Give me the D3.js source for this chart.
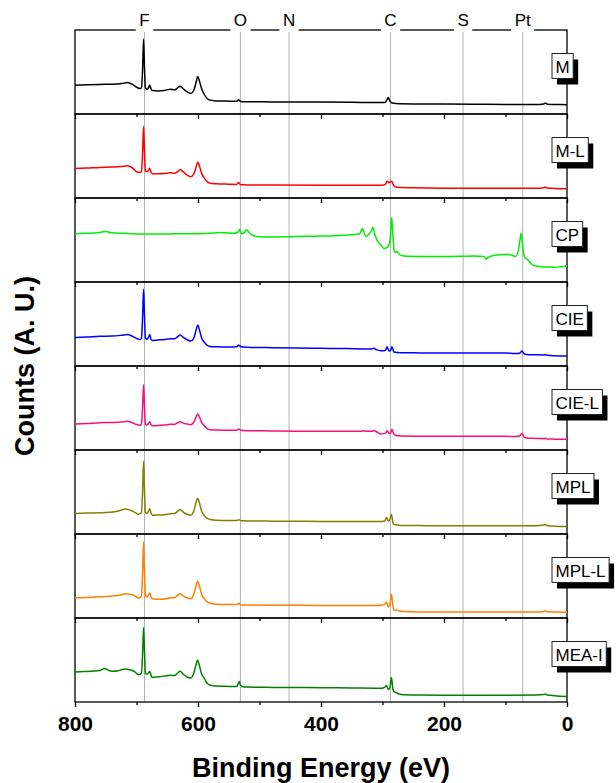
<!DOCTYPE html>
<html>
<head>
<meta charset="utf-8">
<script src="https://cdn.jsdelivr.net/npm/d3@7"></script>
<style>
  body { margin: 0; background: #fff; }
  svg { display: block; font-family: "Liberation Sans", Arial, sans-serif; }
</style>
</head>
<body>
<div id="chart"></div>
<script>
// ------ Data (binding energy in eV, counts in arbitrary units 0-100 per panel) ------- //

const sampleNames = ["M", "M-L", "CP", "CIE", "CIE-L", "MPL", "MPL-L", "MEA-I"];
const sampleColors = ["#000000", "#ff0000", "#00ee00", "#0000ff", "#f5107c", "#808000", "#ff8000", "#008000"];

const elementNames = ["F", "O", "N", "C", "S", "Pt"];
const elementEnergies = [687, 531, 452, 287, 169, 72];

const majorTicks = [800, 600, 400, 200, 0];
const minorTicks = [700, 500, 300, 100];

const dataM = [[800,34.3],[780,34.8],[760,35.2],[740,35.4],[724,36.2],[715,37.4],[707,35.4],[699,31.5],[694,30.3],[692,31],[690,55],[688.5,89],[687,55],[685.5,31],[683,29.5],[680,32],[678.5,34.5],[676.5,30],[674,28],[665,27.5],[655,28],[645,29.5],[638,29],[633,31],[629,33],[624,30],[617,26],[612,24.5],[607,28],[603,38],[600.5,44.5],[598,40],[594,30],[590,23.5],[585,18.5],[580,16.5],[570,15.6],[550,15.3],[537,15.2],[534,17],[531,15],[520,14.6],[480,14.4],[440,14.2],[400,14.2],[350,14],[310,13.6],[296,13.8],[293,16.5],[291,19.7],[288,15.5],[284,13],[278,12.5],[250,12],[200,11.8],[150,11.6],[100,11.4],[50,11.3],[38,12],[35,13],[32,11.6],[20,11.3],[10,11.2],[0,11]];

const dataML = [[800,35],[780,35.6],[760,36.4],[740,36.8],[724,37.5],[715,38.3],[707,36],[699,31],[694,30.5],[692,31.5],[690,55],[688.5,85.5],[687,55],[685.5,32],[683,31.5],[680,33.5],[678.5,35.5],[676.5,31],[674,29],[665,29],[655,29.2],[645,30],[638,29.5],[633,31.5],[629,33.5],[624,31],[617,27],[612,25.4],[607,28.5],[603,37],[600.5,43],[598,39],[594,29],[590,24],[585,19.5],[580,17.5],[570,17],[550,16.5],[537,16.2],[534,18.5],[531,16],[520,15.6],[480,15.4],[400,15.3],[350,15.3],[300,15.3],[295,16.5],[292.7,20],[289,18.5],[285,20],[282,15],[278,12.8],[250,12.2],[200,11.7],[150,11.6],[100,11.6],[50,11.5],[38,12.2],[35,13],[32,11.8],[20,11.4],[0,11]];

const dataCP = [[800,57.5],[780,58],[760,59],[750,60],[740,58.5],[720,57.8],[700,57.2],[680,57],[650,57.2],[620,57.5],[600,57.5],[580,58],[565,59],[555,58.5],[540,58],[534,60],[532.3,62.6],[529,57.5],[525,58.5],[521,62.2],[517,59],[510,55],[500,54],[480,53.5],[450,54],[420,54.5],[400,54.7],[370,55.5],[345,56.5],[337,57.5],[332.5,63.8],[329,57],[326.5,54.3],[322,57],[318,61],[315.5,65.4],[313,58],[309,50],[303,44],[298,40.2],[294,40.5],[290,43.3],[287,55],[285,76.8],[283,55],[281,37],[278.5,35],[277,36.5],[275.5,35.4],[271,32],[265,31],[240,30.5],[200,30.3],[170,30.6],[150,31],[135,30.5],[131,27],[129,29],[120,31.5],[110,32.3],[100,33],[90,32],[84,30.3],[79,38],[76,52],[74.5,57.9],[73,50],[71,36],[69,30],[63,26],[57,21],[51,19],[45,18.5],[30,17.8],[19,17.7],[10,18.2],[5,18.5],[0,19.3]];

const dataCIE = [[800,34],[780,34.6],[760,35.4],[740,35.6],[724,36.6],[715,37.4],[707,35.5],[699,32.5],[694,31.5],[692,33],[690,60],[688.5,91.5],[687,60],[685.5,33],[683,31.7],[680,35],[678.5,37.4],[676.5,32],[674,30.5],[665,31],[655,31.5],[645,32.5],[638,32.5],[633,35],[629,37],[624,34],[617,31],[612,29.7],[607,33],[603,43],[600.5,48.8],[598,44],[594,33],[590,28.5],[585,24.5],[580,23.2],[570,22.8],[550,22.6],[537,22.8],[534,24.8],[530,23],[520,22.4],[480,21.8],[440,21.3],[400,21],[360,20.7],[320,20.3],[316,20.8],[314,21],[310,19.5],[303,18.2],[298,18.2],[295,19],[292.7,22.8],[289,17.9],[286.5,19],[284.6,22.8],[282,17.5],[280,16.3],[270,15.8],[240,15.6],[200,15.4],[150,15.4],[100,15.4],[85,15],[77,15.2],[73.2,17.9],[70,14.8],[66,13.8],[50,13.4],[38,13.2],[35,13.5],[32,12.8],[20,12.2],[0,11.8]];

const dataCIEL = [[800,31],[780,31.6],[760,32.4],[740,32.8],[724,33.4],[715,34.1],[707,32.4],[699,30.2],[694,29.6],[692,31],[690,52],[688.5,77.8],[687,52],[685.5,30.5],[683,29.8],[680,32],[678.5,33.7],[676.5,30.2],[674,29],[665,29.2],[655,29.8],[645,30.6],[638,30.5],[633,32.5],[629,33.7],[624,32],[617,30.8],[612,30.2],[607,33],[603,39.5],[600.5,42.9],[598,40],[594,32.5],[590,29],[585,25.5],[580,24.2],[570,23.8],[550,23.6],[537,23.6],[534,25],[530,23.6],[520,23],[480,22.7],[440,22.4],[400,22.2],[360,22.2],[335,22.4],[331,23],[326,22.2],[318,22.2],[314,23],[308,21],[303,19],[297,19.5],[294,21],[292.7,23],[289,19.5],[286.5,21],[284.6,24.6],[282,19.5],[278,17.2],[270,16.6],[240,16.4],[200,16.3],[150,16.3],[100,16.3],[85,16],[77,16.6],[73.2,19.8],[70,15.5],[66,14.3],[50,13.8],[38,13.5],[35,14],[32,13.2],[20,12.9],[0,12.7]];

const dataMPL = [[800,24.4],[780,24.9],[760,25.3],[745,25.8],[735,26.5],[724,28.5],[718,29.7],[711,28.5],[704,26.4],[697,23.6],[692,25.5],[690,52],[688.5,86.6],[687,52],[685.5,26],[683,24.4],[680,28],[678.5,30],[676.5,25],[674,22.4],[665,22.6],[655,23],[645,24.2],[638,24.4],[633,27],[629,29.3],[624,26],[617,23.2],[612,22.4],[607,27],[603,38],[600.5,42.7],[598,38],[594,27],[590,22.4],[585,18.5],[580,17.2],[570,16.3],[550,16.1],[537,16.1],[534,17],[530,15.8],[520,15.6],[480,15.3],[440,15.2],[400,15],[350,15],[310,15],[300,15],[296,15.8],[293.5,19.5],[290.5,15.5],[288,17],[285.5,23.2],[283,13.5],[281,11.4],[275,10.6],[270,10.2],[240,10],[200,9.8],[150,9.8],[100,9.8],[50,9.9],[38,10.6],[35,11.4],[32,9.8],[20,9.3],[0,8.9]];

const dataMPLL = [[800,23.8],[780,24.5],[760,25.2],[745,25.8],[735,26.5],[724,27.8],[718,29],[711,28.2],[704,27],[697,23.8],[692,26],[690,55],[688.5,90.5],[687,55],[685.5,26.5],[683,25],[680,28],[678.5,29.8],[676.5,25.2],[674,23],[665,22.2],[655,22.6],[645,24],[638,24.2],[633,27],[629,29],[624,26],[617,23.8],[612,23],[607,28],[603,39],[600.5,43.7],[598,39],[594,28],[590,23],[585,19.3],[580,17.5],[570,16.3],[550,16],[537,16],[534,17.5],[530,15.6],[520,15.4],[480,15.2],[440,15.1],[400,15],[350,15],[310,15],[300,15.5],[296,16.5],[293.5,19],[290.5,13],[288,16],[285.5,28.2],[283,14],[281,9.1],[277,9.4],[273,8.3],[265,7.6],[240,7.2],[200,7.1],[150,7.1],[100,7.1],[50,7.1],[38,7.8],[35,8.7],[32,7.3],[20,7],[0,6.7]];

const dataMEAI = [[800,35.8],[785,36.3],[770,36.8],[760,37.4],[752,39.8],[746,38],[740,36.6],[730,37.2],[724,38.6],[718,39.4],[711,38.5],[704,36.6],[697,32.5],[692,34],[690,60],[688.5,88.6],[687,60],[685.5,34],[683,33],[680,35],[678.5,36.6],[676.5,32],[674,29.3],[665,30],[655,30.8],[645,31.7],[638,31.5],[633,34.5],[629,36.6],[624,33],[617,29.5],[612,28.5],[607,34],[603,45],[600.5,50],[598,44],[594,33],[590,28.5],[585,22],[580,20],[570,19],[550,18.6],[537,18.4],[535,21],[533,24.4],[531,20],[526,18],[520,17.8],[480,17.4],[440,17.2],[400,17],[350,16.7],[310,16.5],[303,16.3],[298,17],[295,18.5],[293.5,19.5],[290.5,15],[288,17],[285.5,29.3],[283,15],[281,12.2],[277,11],[273,9.5],[265,8.6],[240,8.3],[200,8.1],[150,8.1],[100,8.1],[50,8.2],[38,8.8],[35,9.4],[32,8.3],[20,7.5],[0,6.5]];

const spectra = [dataM, dataML, dataCP, dataCIE, dataCIEL, dataMPL, dataMPLL, dataMEAI];


// Draw the stacked spectra here
const drawSpectra = () => {

  // ------ Create the drawing area ------- //

  const width = 616;
  const height = 783;
  const margin = {top: 30, right: 49, bottom: 81, left: 75};
  const font = '"Liberation Sans", Arial, sans-serif';

  const svg = d3.select("#chart")
    .append("svg")
      .attr("width", width)
      .attr("height", height)
      .attr("viewBox", [0, 0, width, height]);

  // ------ Scales ------- //

  const xScale = d3.scaleLinear()
    .domain([800, 0])
    .range([margin.left, width - margin.right]);

  const panelScale = d3.scaleBand()
    .domain(sampleNames)
    .range([margin.top, height - margin.bottom]);

  const yScale = d3.scaleLinear()
    .domain([0, 100])
    .range([panelScale.bandwidth(), 0]);

  const lineGenerator = d3.line()
    .x(d => xScale(d[0]))
    .y(d => yScale(d[1]))
    .curve(d3.curveMonotoneX);

  // ------ Element reference lines ------- //

  svg
    .selectAll(".element-line")
    .data(elementEnergies)
    .join("line")
      .attr("class", "element-line")
      .attr("x1", d => xScale(d))
      .attr("x2", d => xScale(d))
      .attr("y1", margin.top)
      .attr("y2", height - margin.bottom)
      .attr("stroke", "#b4b4b4")
      .attr("stroke-width", 1);

  // ------ One panel per sample ------- //

  sampleNames.forEach((name, i) => {
    const panel = svg
      .append("g")
        .attr("transform", `translate(0, ${panelScale(name)})`);

    // Bottom axis with outward ticks, labels only on the last panel
    const isLast = i === sampleNames.length - 1;
    const minorAxis = d3.axisBottom(xScale)
      .tickValues(minorTicks)
      .tickSize(3)
      .tickFormat("");
    const majorAxis = d3.axisBottom(xScale)
      .tickValues(majorTicks)
      .tickSize(5)
      .tickPadding(9)
      .tickFormat(isLast ? d3.format("d") : "");

    panel.append("g")
      .attr("transform", `translate(0, ${panelScale.bandwidth()})`)
      .call(minorAxis)
      .call(g => g.select(".domain").remove())
      .call(g => g.selectAll("line").attr("stroke-width", 1.3));
    panel.append("g")
      .attr("transform", `translate(0, ${panelScale.bandwidth()})`)
      .call(majorAxis)
      .call(g => g.select(".domain").remove())
      .call(g => g.selectAll("line").attr("stroke-width", 1.3))
      .call(g => g.selectAll("text")
        .attr("font-family", font)
        .attr("font-size", 21)
        .attr("font-weight", "bold")
        .attr("fill", "#000"));

    // Frame of the panel
    panel.append("rect")
      .attr("x", xScale(800))
      .attr("y", 0)
      .attr("width", xScale(0) - xScale(800))
      .attr("height", panelScale.bandwidth())
      .attr("fill", "none")
      .attr("stroke", "#000")
      .attr("stroke-width", 1.3);

    // The spectrum
    panel.append("path")
      .attr("d", lineGenerator(spectra[i]))
      .attr("fill", "none")
      .attr("stroke", sampleColors[i])
      .attr("stroke-width", 1.5)
      .attr("stroke-linejoin", "round");
  });

  // ------ Sample labels in boxes with a drop shadow ------- //

  sampleNames.forEach((name) => {
    const labelGroup = svg.append("g")
      .attr("transform", `translate(552, ${panelScale(name) + 36})`);

    // measure the text first
    const probe = labelGroup.append("text")
      .text(name)
      .attr("font-family", font)
      .attr("font-size", 17);
    const boxWidth = probe.node().getComputedTextLength() + 7;
    probe.remove();

    labelGroup.append("rect")
      .attr("x", 5)
      .attr("y", -6.5)
      .attr("width", boxWidth)
      .attr("height", 25)
      .attr("fill", "#000");
    labelGroup.append("rect")
      .attr("x", 0)
      .attr("y", -12.5)
      .attr("width", boxWidth)
      .attr("height", 25)
      .attr("fill", "#fff")
      .attr("stroke", "#222")
      .attr("stroke-width", 1);
    labelGroup.append("text")
      .text(name)
      .attr("x", boxWidth / 2)
      .attr("y", 6.5)
      .attr("text-anchor", "middle")
      .attr("font-family", font)
      .attr("font-size", 17)
      .attr("fill", "#000");
  });

  // ------ Element labels over the top border ------- //

  const elementLabels = svg
    .selectAll(".element-label")
    .data(elementNames)
    .join("g")
      .attr("class", "element-label")
      .attr("transform", (d, i) => `translate(${xScale(elementEnergies[i])}, 0)`);
  elementLabels.append("text")
    .text(d => d)
    .attr("y", 26)
    .attr("text-anchor", "middle")
    .attr("font-family", font)
    .attr("font-size", 17)
    .attr("fill", "#000");
  elementLabels.each(function() {
    const g = d3.select(this);
    const w = g.select("text").node().getComputedTextLength() + 7;
    g.insert("rect", "text")
      .attr("x", -w / 2)
      .attr("y", margin.top - 2)
      .attr("width", w)
      .attr("height", 4)
      .attr("fill", "#fff");
  });

  // ------ Axis titles ------- //

  svg
    .append("text")
      .text("Binding Energy (eV)")
      .attr("x", (xScale(800) + xScale(0)) / 2)
      .attr("y", 777)
      .attr("text-anchor", "middle")
      .attr("font-family", font)
      .attr("font-size", 27)
      .attr("font-weight", "bold");

  svg
    .append("text")
      .text("Counts (A. U.)")
      .attr("transform", `translate(34, ${(margin.top + height - margin.bottom) / 2}) rotate(-90)`)
      .attr("text-anchor", "middle")
      .attr("font-family", font)
      .attr("font-size", 27)
      .attr("font-weight", "bold");
};

drawSpectra();
</script>
</body>
</html>
